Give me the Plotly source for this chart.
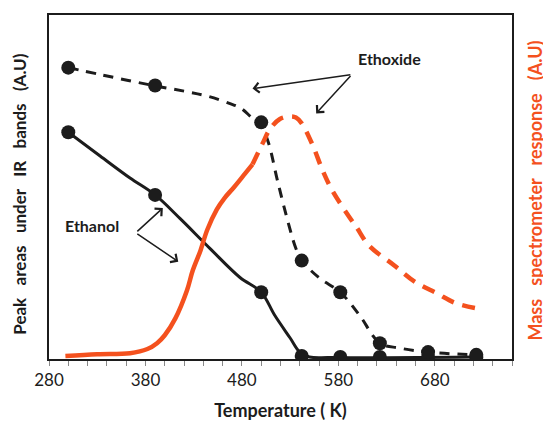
import plotly.graph_objects as go

# ---- data (temperature in K, intensities in arbitrary units 0-100) ----
dot_T = [300, 390, 500, 542, 582, 623, 673, 723]
ethanol_dots = [65.9, 47.7, 19.4, 0.9, 0.6, 0.6, 0.6, 0.6]
ethoxide_dots = [84.7, 79.5, 68.8, 28.6, 19.4, 4.6, 2.0, 1.2]

ethanol_curve_T = [300, 333, 364, 390, 416, 447, 478, 500, 514, 530, 540, 550, 571, 723]
ethanol_curve_v = [65.9, 59.0, 52.6, 47.7, 40.8, 32.1, 23.7, 19.4, 12.7, 6.1, 2.0, 0.6, 0.4, 0.6]

ethoxide_curve_T = [300, 333, 388, 423, 446, 467, 479, 491, 498, 507, 517, 528, 536, 542,
                    561, 582, 602, 623, 643, 673, 723]
ethoxide_curve_v = [84.7, 82.7, 79.5, 77.7, 76.3, 74.3, 72.9, 70.0, 68.8, 63.3, 51.7, 39.6,
                    32.1, 28.6, 23.4, 19.4, 12.7, 4.6, 3.2, 2.0, 1.2]

ms_solid_T = [297, 330, 364, 382, 392, 400, 411, 423, 429, 437, 444, 454, 462, 472, 483, 491]
ms_solid_v = [0.9, 1.4, 1.7, 2.9, 4.6, 6.9, 11.8, 19.9, 25.7, 31.5, 37.5, 43.5, 46.8, 50.0,
              53.8, 56.6]
ms_dash_T = [491, 501, 509, 519, 530, 536, 542, 553, 564, 574, 592, 599, 612, 638, 659, 682,
             702, 728]
ms_dash_v = [56.6, 62.4, 66.8, 69.7, 70.5, 70.2, 68.5, 62.4, 54.6, 48.8, 41.0, 38.2, 32.9,
             27.2, 22.5, 19.1, 16.2, 14.5]

x_ticks = [280, 380, 480, 580, 680]

BLACK = "#1c1c1c"
ORANGE = "#F4511E"
FONT = "Lato"

fig = go.Figure()

fig.add_trace(go.Scatter(x=ms_solid_T, y=ms_solid_v, mode="lines", yaxis="y2",
                         line=dict(color=ORANGE, width=4.5, shape="spline"), hoverinfo="skip"))
fig.add_trace(go.Scatter(x=ms_dash_T, y=ms_dash_v, mode="lines", yaxis="y2",
                         line=dict(color=ORANGE, width=4.5, shape="spline", dash="13px,9px"),
                         hoverinfo="skip"))
fig.add_trace(go.Scatter(x=ethanol_curve_T, y=ethanol_curve_v, mode="lines",
                         line=dict(color=BLACK, width=3, shape="spline")))
fig.add_trace(go.Scatter(x=ethoxide_curve_T, y=ethoxide_curve_v, mode="lines",
                         line=dict(color=BLACK, width=3, shape="spline", dash="10px,8px")))
fig.add_trace(go.Scatter(x=dot_T, y=ethanol_dots, mode="markers",
                         marker=dict(color=BLACK, size=14)))
fig.add_trace(go.Scatter(x=dot_T, y=ethoxide_dots, mode="markers",
                         marker=dict(color=BLACK, size=14)))

annotations = []
# arrows
arrow_style = dict(xref="x", yref="y", axref="x", ayref="y", text="", showarrow=True,
                   arrowhead=4, arrowsize=1.3, arrowwidth=1.5, arrowcolor=BLACK)
for hx, hy in [(491, 78.6), (557, 71.4)]:
    annotations.append(dict(x=hx, y=hy, ax=594, ay=82.7, **arrow_style))
for hx, hy in [(398, 43.9), (414, 28.3)]:
    annotations.append(dict(x=hx, y=hy, ax=370, ay=36.7, **arrow_style))
annotations.append(dict(x=633, y=87.3, xref="x", yref="y", text="<b>Ethoxide</b>",
                        showarrow=False, font=dict(family=FONT, size=16, color=BLACK)))
annotations.append(dict(x=325, y=38.7, xref="x", yref="y", text="<b>Ethanol</b>",
                        showarrow=False, font=dict(family=FONT, size=16, color=BLACK)))
# axis titles
GAP2 = "\u00a0\u00a0\u00a0"
annotations.append(dict(x=-0.063, y=0.48, xref="paper", yref="paper", textangle=-90,
                        xanchor="center", yanchor="middle",
                        text="<b>Peak" + GAP2 + "areas" + GAP2 + "under" + GAP2 + "IR" + GAP2
                             + "bands" + GAP2 + "(A.U)</b>",
                        showarrow=False, font=dict(family=FONT, size=17, color=BLACK)))
GAP = "\u00a0\u00a0\u00a0"
annotations.append(dict(x=1.05, y=0.49, xref="paper", yref="paper", textangle=-90,
                        xanchor="center", yanchor="middle",
                        text="<b>Mass" + GAP + "spectrometer" + GAP + "response" + GAP + "(A.U)</b>",
                        showarrow=False, font=dict(family=FONT, size=18, color=ORANGE)))

fig.update_layout(
    width=551, height=425,
    margin=dict(l=41, r=47, t=5, b=74),
    paper_bgcolor="white", plot_bgcolor="white",
    showlegend=False,
    font=dict(family=FONT, size=17, color=BLACK),
    annotations=annotations,
    xaxis=dict(range=[280, 760], tickvals=x_ticks, ticks="outside", ticklen=5,
               tickcolor="#888", tickwidth=1,
               minor=dict(dtick=20, tick0=280, ticks="outside", ticklen=5, tickcolor="#888"),
               showgrid=False, zeroline=False, showline=True, linecolor=BLACK, linewidth=2,
               mirror=True, tickfont=dict(family=FONT, size=17, color=BLACK),
               title=dict(text="<b>Temperature ( K)</b>", standoff=15,
                          font=dict(family=FONT, size=18, color=BLACK))),
    yaxis=dict(range=[0, 100], showticklabels=False, ticks="", showgrid=False,
               zeroline=False, showline=True, linecolor=BLACK, linewidth=2, mirror=True),
    yaxis2=dict(range=[0, 100], overlaying="y", side="right", showticklabels=False,
                ticks="", showgrid=False, zeroline=False, showline=False),
)

fig.write_html("out.html")
